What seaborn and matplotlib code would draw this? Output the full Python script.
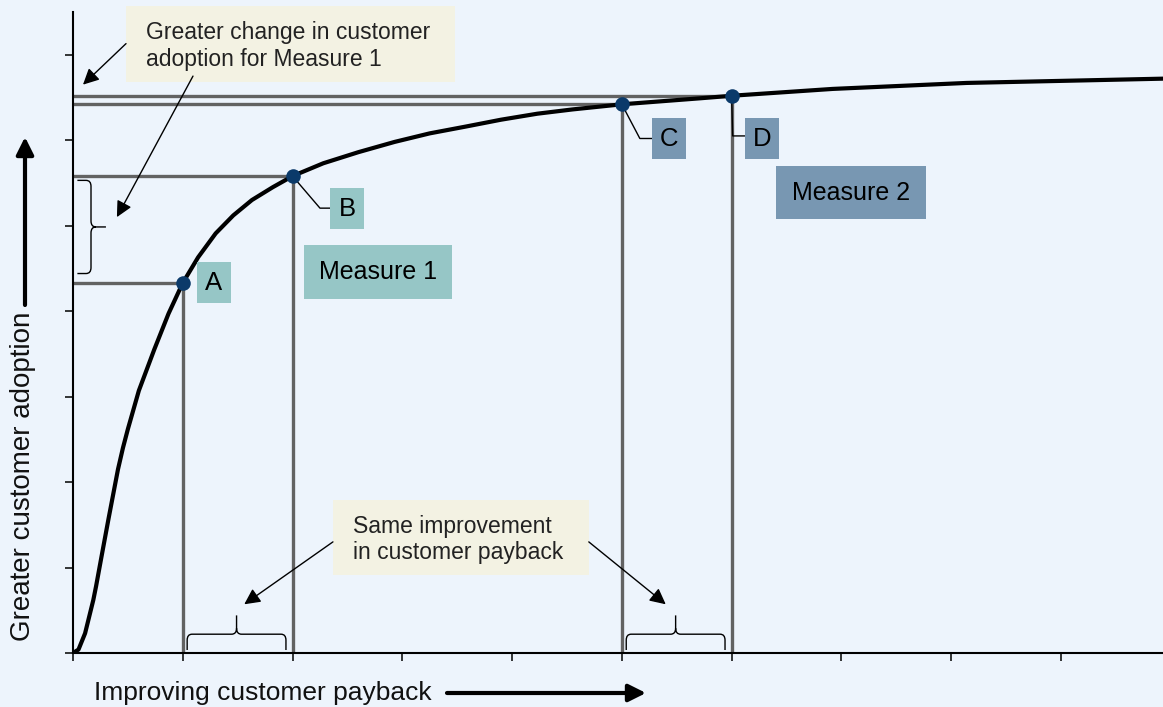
import matplotlib
matplotlib.use('Agg')
import pandas as pd
import matplotlib.pyplot as plt
import seaborn as sns
from matplotlib.path import Path
from matplotlib.patches import PathPatch, Rectangle

# adoption curve
payback = [0.0, 0.05, 0.11, 0.185, 0.21, 0.26, 0.325, 0.41, 0.455, 0.50, 0.60, 0.74, 0.87, 1.0,
           1.14, 1.30, 1.46, 1.63, 1.82, 2.0, 2.28, 2.60, 2.93, 3.25, 3.58, 3.90, 4.23, 4.55,
           5.0, 5.71, 6.0, 6.92, 8.14, 9.93]
adoption = [0.0, 0.04, 0.23, 0.62, 0.78, 1.13, 1.58, 2.15, 2.40, 2.62, 3.07, 3.55, 3.97, 4.33,
            4.63, 4.91, 5.12, 5.30, 5.45, 5.58, 5.73, 5.86, 5.98, 6.08, 6.16, 6.24, 6.31, 6.36,
            6.42, 6.49, 6.52, 6.60, 6.67, 6.72]

point_names = ['A', 'B', 'C', 'D']
point_payback = [1.0, 2.0, 5.0, 6.0]
point_adoption = [4.33, 5.58, 6.42, 6.52]

x_ticks = list(range(10))
y_ticks = list(range(8))

curve = pd.DataFrame({'payback': payback, 'adoption': adoption})
points = pd.DataFrame({'name': point_names, 'payback': point_payback, 'adoption': point_adoption})

bg = '#edf4fc'
beige = '#f3f2e3'
teal = '#96c6c6'
steel = '#7897b2'
grey = '#626262'

sns.set_theme(style='ticks')
plt.rcParams['font.family'] = ['Liberation Sans', 'DejaVu Sans']

fig = plt.figure(figsize=(11.63, 7.07), dpi=100, facecolor=bg)
ax = fig.add_axes([73 / 1163, 54 / 707, 1090 / 1163, 641 / 707], facecolor=bg)

# guide lines down and across from each point
ax.vlines(points['payback'], 0, points['adoption'], color=grey, lw=2.4, zorder=2)
ax.hlines(points['adoption'], 0, points['payback'], color=grey, lw=2.4, zorder=2)

sns.lineplot(data=curve, x='payback', y='adoption', color='black', lw=3, sort=False, ax=ax, zorder=3)
sns.scatterplot(data=points, x='payback', y='adoption', color='#0b3a6a', s=110, linewidth=0, ax=ax, zorder=4)

ax.set_xlim(0, 9.93)
ax.set_ylim(0, 7.5)
ax.set_xticks(x_ticks)
ax.set_yticks(y_ticks)
ax.set_xticklabels([])
ax.set_yticklabels([])
ax.set_xlabel('')
ax.set_ylabel('')
sns.despine(ax=ax)
for side in ['left', 'bottom']:
    ax.spines[side].set_linewidth(1.5)
    ax.spines[side].set_color('black')
ax.tick_params(length=6, width=1.1, color='black', direction='out')


def brace(ax, a, b, end, mid, tip, ra, rv, vertical=False):
    # curly brace along a..b; stubs at 'end', bar at 'mid', point at 'tip'
    m = (a + b) / 2
    s = 1 if tip > mid else -1
    pts = [(a, end), (a, mid - s * rv), (a, mid), (a + ra, mid), (m - ra, mid), (m, mid), (m, mid + s * rv),
           (m, tip), (m, mid + s * rv), (m, mid), (m + ra, mid), (b - ra, mid), (b, mid), (b, mid - s * rv),
           (b, end)]
    codes = [Path.MOVETO, Path.LINETO, Path.CURVE3, Path.CURVE3, Path.LINETO, Path.CURVE3, Path.CURVE3,
             Path.LINETO, Path.MOVETO, Path.CURVE3, Path.CURVE3, Path.LINETO, Path.CURVE3, Path.CURVE3,
             Path.LINETO]
    if vertical:
        pts = [(v, u) for u, v in pts]
    ax.add_patch(PathPatch(Path(pts, codes), fill=False, lw=1, color='black', clip_on=False, zorder=5))


brace(ax, point_adoption[0] + 0.11, point_adoption[1] - 0.05, 0.04, 0.164, 0.30, 0.07, 0.045, vertical=True)
brace(ax, point_payback[0] + 0.04, point_payback[1] - 0.06, 0.035, 0.22, 0.44, 0.045, 0.07)
brace(ax, point_payback[2] + 0.04, point_payback[3] - 0.06, 0.035, 0.22, 0.44, 0.045, 0.07)

# callout boxes
ax.add_patch(Rectangle((0.483, 6.678), 2.996, 0.889, color=beige, lw=0, clip_on=False, zorder=5))
ax.text(0.665, 7.10, 'Greater change in customer\nadoption for Measure 1', fontsize=16.5,
        color='#222222', ha='left', va='center', zorder=6)
ax.add_patch(Rectangle((2.368, 0.912), 2.331, 0.877, color=beige, lw=0, zorder=5))
ax.text(2.55, 1.33, 'Same improvement\nin customer payback', fontsize=16.5,
        color='#222222', ha='left', va='center', zorder=6)

arrow = dict(arrowstyle='-|>', color='black', lw=1, mutation_scale=24, shrinkA=0, shrinkB=0)
ax.annotate('', xy=(0.091, 6.65), xytext=(0.483, 7.13), arrowprops=arrow, annotation_clip=False, zorder=6)
ax.annotate('', xy=(0.40, 5.10), xytext=(1.093, 6.75), arrowprops=arrow, annotation_clip=False, zorder=6)
ax.annotate('', xy=(1.56, 0.57), xytext=(2.368, 1.30), arrowprops=arrow, zorder=6)
ax.annotate('', xy=(5.40, 0.57), xytext=(4.699, 1.30), arrowprops=arrow, zorder=6)

# measure tags
ax.add_patch(Rectangle((2.104, 4.140), 1.348, 0.632, color=teal, lw=0, zorder=5))
ax.text(2.778, 4.456, 'Measure 1', fontsize=18, ha='center', va='center', color='black', zorder=6)
ax.add_patch(Rectangle((6.403, 5.076), 1.366, 0.620, color=steel, lw=0, zorder=5))
ax.text(7.086, 5.386, 'Measure 2', fontsize=18, ha='center', va='center', color='black', zorder=6)

# point letter tags and leaders
tag_x = [1.129, 2.341, 5.273, 6.120]
tag_y = [4.094, 4.959, 5.778, 5.778]
tag_colors = [teal, teal, steel, steel]
for name, tx, ty, c in zip(point_names, tag_x, tag_y, tag_colors):
    ax.add_patch(Rectangle((tx, ty), 0.31, 0.48, color=c, lw=0, zorder=5))
    ax.text(tx + 0.155, ty + 0.24, name, fontsize=18.5, ha='center', va='center', color='black', zorder=6)

leaders = [
    ([point_payback[1], 2.25, tag_x[1]], [point_adoption[1], 5.205, 5.205]),
    ([point_payback[2], 5.164, tag_x[2]], [point_adoption[2], 6.02, 6.02]),
    ([point_payback[3], 6.01, tag_x[3]], [point_adoption[3], 6.05, 6.05]),
]
for lx, ly in leaders:
    ax.plot(lx, ly, color='black', lw=1, zorder=3.5)

# axis titles with arrows
fig.text(23 / 1163, 1 - 476 / 707, 'Greater customer adoption', rotation=90, fontsize=20,
         ha='center', va='center', color='#111111')
fig.text(94 / 1163, 1 - 700 / 707, 'Improving customer payback', fontsize=19,
         ha='left', va='baseline', color='#111111')
big = dict(arrowstyle='-|>', color='black', lw=3, mutation_scale=26, shrinkA=0, shrinkB=0)
ax.annotate('', xy=(25 / 1163, 1 - 137 / 707), xytext=(25 / 1163, 1 - 305 / 707),
            xycoords='figure fraction', textcoords='figure fraction', arrowprops=big)
ax.annotate('', xy=(646 / 1163, 1 - 693 / 707), xytext=(447 / 1163, 1 - 693 / 707),
            xycoords='figure fraction', textcoords='figure fraction', arrowprops=big)

fig.savefig('out.png', dpi=100, facecolor=bg)
